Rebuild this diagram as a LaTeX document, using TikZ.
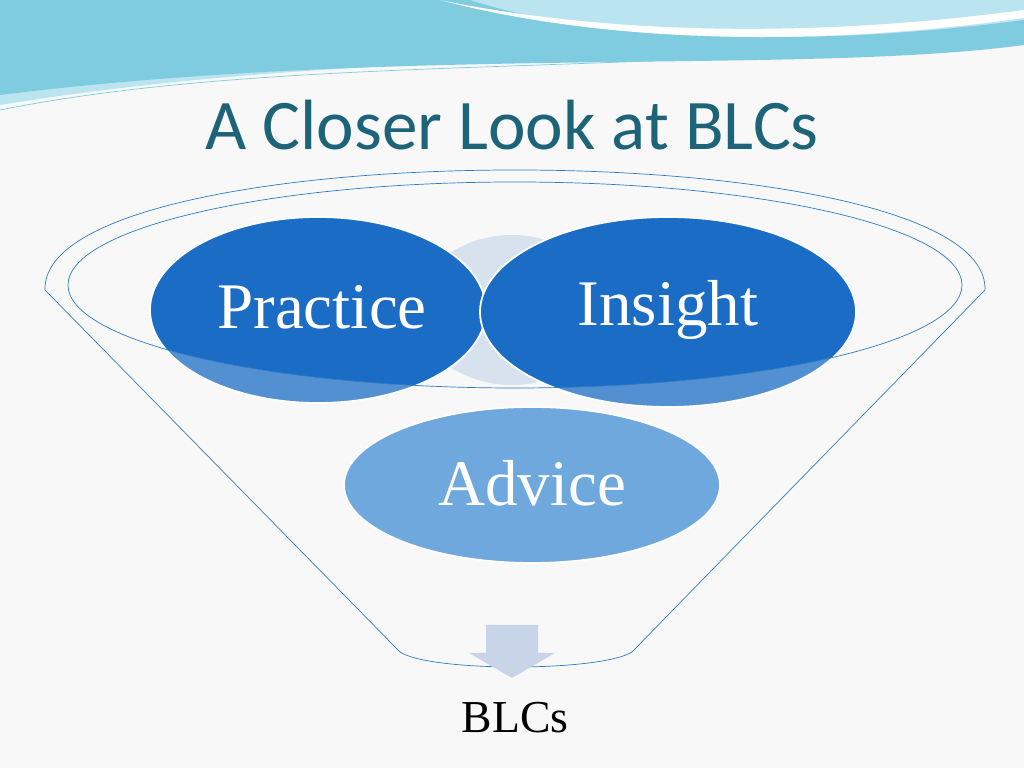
\documentclass[tikz,border=0pt]{standalone}
\usepackage{fontspec}
\setmainfont{Liberation Serif}
\newfontfamily\titlefont{Carlito}
\usetikzlibrary{positioning}
\definecolor{bgray}{HTML}{F8F8F8}
\definecolor{titleteal}{HTML}{1D6478}
\definecolor{darkblob}{HTML}{1A6CC4}
\definecolor{lightblob}{HTML}{6FA8DC}
\definecolor{funnelline}{HTML}{2E7BC4}
\definecolor{arrowgray}{HTML}{C8D5E8}
\definecolor{wavea}{HTML}{7FCBE0}
\definecolor{waveb}{HTML}{B9E4F0}

\begin{document}
\begin{tikzpicture}[x=0.2mm,y=-0.2mm,
  blob/.style={fill=darkblob,draw=white,line width=1pt},
  label/.style={text=white,font=\fontsize{37}{41}\selectfont}]
\useasboundingbox (0,0) rectangle (1024,768);
\fill[bgray] (0,0) rectangle (1024,768);
% top wave
\fill[waveb] (0,0) -- (1024,0) -- (1024,40) .. controls (800,70) and (400,40) .. (0,105) -- cycle;
\fill[wavea] (0,0) -- (470,0) .. controls (560,30) and (760,55) .. (1024,20) -- (1024,45)
  .. controls (800,75) and (400,45) .. (0,95) -- cycle;
\fill[white] (440,0) .. controls (560,25) and (760,45) .. (1024,10) -- (1024,18)
  .. controls (760,55) and (560,32) .. (440,0) -- cycle;
\draw[wavea] (0,110) .. controls (300,50) and (700,80) .. (1024,30);
\node[text=titleteal,font=\titlefont\fontsize{40.5}{44}\selectfont] (title) at (512,125) {A Closer Look at BLCs};
% funnel
\draw[funnelline] (45,290) .. controls (40,130) and (990,130) .. (985,290)
  -- (632,652) .. controls (600,672) and (430,672) .. (400,652) -- cycle;
% circles
\fill[arrowgray!70] (512,310) ellipse (95 and 75);
\path[blob] (318,310) ellipse (168 and 93);
\path[blob] (668,312) ellipse (188 and 95);
\begin{scope}
  \clip (318,310) ellipse (168 and 93) (668,312) ellipse (188 and 95);
  \fill[white,opacity=0.25,even odd rule] (0,0) rectangle (1024,768) (515,285) ellipse (447 and 103);
\end{scope}
\draw[funnelline] (515,285) ellipse (447 and 103);
\path[fill=lightblob,draw=white,line width=1pt] (532,485) ellipse (188 and 78);
\node[label] (practice) at (322,307) {Practice};
\node[label] (insight) at (668,310) {Insight};
\node[label] (advice) at (532,483) {Advice};
% arrow
\fill[arrowgray] (486,625) -- (538,625) -- (538,653) -- (555,653) -- (512,678) -- (469,653) -- (486,653) -- cycle;
\node[font=\fontsize{26}{30}\selectfont] (blcs) at (515,718) {BLCs};
\end{tikzpicture}
\end{document}
